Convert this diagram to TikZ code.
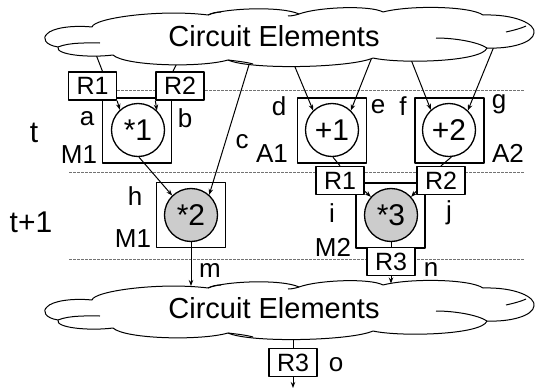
\documentclass[tikz,border=0pt]{standalone}
\usepackage{fontspec}
\setmainfont{Liberation Sans}
\usetikzlibrary{arrows.meta}
\newcommand{\mycloudshape}{%
  \draw[cloudline, fill=white] (47,34) .. controls (52,28) and (72,25) .. (92,27)
    .. controls (94,18) and (160,9) .. (208,15)
    .. controls (225,8) and (282,6) .. (299,14)
    .. controls (318,7) and (370,5) .. (383,12)
    .. controls (410,5) and (470,6) .. (483,15)
    .. controls (515,14) and (536,24) .. (534,33)
    .. controls (533,43) and (510,49) .. (487,48)
    .. controls (482,62) and (400,64) .. (373,58)
    .. controls (350,68) and (250,70) .. (228,60)
    .. controls (200,68) and (125,66) .. (113,55)
    .. controls (90,58) and (55,55) .. (58,47)
    .. controls (45,45) and (42,38) .. (47,34) -- cycle;
  \draw[cloudline] (58,47) .. controls (70,42) and (90,43) .. (100,43);
  \draw[cloudline] (228,60) .. controls (236,61) and (246,62) .. (253,64);
  \draw[cloudline] (487,48) .. controls (478,42) and (455,38) .. (436,38);
  \draw[cloudline] (506,32) .. controls (515,30) and (522,28) .. (526,26);
  \draw[cloudline] (299,14) .. controls (296,15) and (292,16) .. (288,16);
  \draw[cloudline] (208,15) .. controls (212,13) and (216,12) .. (221,12);
}
\begin{document}
\begin{tikzpicture}[x=1pt,y=-1pt, line join=round,
  box/.style={draw, line width=1.3pt, minimum width=69pt, minimum height=65pt, inner sep=0pt},
  reg/.style={draw, fill=white, line width=1.3pt, minimum width=48pt, minimum height=28pt, inner sep=0pt, font=\fontsize{25}{25}\selectfont},
  op/.style={circle, draw, fill=white, line width=1.3pt, minimum size=53pt, inner sep=0pt, font=\fontsize{30}{30}\selectfont},
  opg/.style={op, fill=black!20},
  lbl/.style={inner sep=0pt, font=\fontsize{26}{26}\selectfont},
  biglbl/.style={inner sep=0pt, font=\fontsize{30}{30}\selectfont},
  conn/.style={line width=1pt},
  arr/.style={conn, -{Stealth[length=6pt,width=4.5pt]}},
  sep/.style={black!55, line width=0.9pt, dash pattern=on 2.5pt off 1.5pt},
  cloudline/.style={line width=1pt},
  cloudtext/.style={inner sep=0pt, font=\fontsize{29}{29}\selectfont}
]
\useasboundingbox (0,0) rectangle (536,388);

% time separators
\draw[sep] (69,90) -- (524,90);
\draw[sep] (69,172) -- (524,172);
\draw[sep] (69,259) -- (524,259);

% coordinates inside the clouds (free ends)
\coordinate (s1) at (95,52);
\coordinate (s2) at (181,55);
\coordinate (sc) at (252,55);
\coordinate (sd) at (290,55);
\coordinate (se) at (374,52);
\coordinate (sf) at (408,52);
\coordinate (sg) at (495,44);
\coordinate (tm) at (191,286);
\coordinate (tn) at (391,283.5);
\coordinate (so) at (293,330);
\coordinate (out) at (293,388);

% boxes
\node[box] (mb1) at (137,130.5) {};
\node[box] (mb2) at (191,215) {};
\node[box] (ab1) at (332,130.5) {};
\node[box] (ab2) at (449.5,130.5) {};
\node[box] (mb3) at (390.5,215.5) {};

% operators
\node[op] (c1) at (138,130) {*1};
\node[opg] (c2) at (191,215) {*2};
\node[op] (p1) at (332,130) {+1};
\node[op] (p2) at (449,130) {+2};
\node[opg] (c3) at (391,215) {*3};

% registers
\node[reg] (r1a) at (92.5,86) {R1};
\node[reg] (r2a) at (180,86) {R2};
\node[reg] (r1b) at (340,180.5) {R1};
\node[reg] (r2b) at (441,180.5) {R2};
\node[reg] (r3) at (391,261.5) {R3};
\node[reg] (r3b) at (293,362.5) {R3};

% connectors leaving the clouds (drawn beneath the clouds)
\draw[conn] (s1) -- ([xshift=10pt]r1a.north);
\draw[conn] (s2) -- ([xshift=-7pt]r2a.north);
\draw[arr] (sc) -- (c2.48);
\draw[arr] (sd) -- (p1.134);
\draw[arr] (se) -- (p1.46);
\draw[arr] (sf) -- (p2.132);
\draw[arr] (sg) -- (p2.46);
\draw[conn] (so) -- (r3b.north);

% clouds
\mycloudshape
\begin{scope}[shift={(0,273)}]
\mycloudshape
\end{scope}
\node[cloudtext] (cloudtop) at (274,36) {Circuit Elements};
\node[cloudtext] (cloudbot) at (274,308) {Circuit Elements};

% internal connectors
\draw[arr] (r1a.south east) -- (c1.132);
\draw[arr] (r2a.south west) -- (c1.46);
\draw[arr] (c1.-88) -- (c2.134);
\draw[conn] (p1.-88) -- (r1b.north);
\draw[conn] (p2.-85) -- (r2b.north);
\draw[arr] ([yshift=4pt]r1b.south east) -- (c3.138);
\draw[arr] ([yshift=4pt]r2b.south west) -- (c3.42);
\draw[conn] (c3.south) -- (r3.north);
\draw[arr] (c2.south) -- (tm);
\draw[arr] (r3.south) -- (tn);
\draw[arr] (r3b.south) -- (out);

% labels
\node[biglbl] (tt) at (34,133) {t};
\node[biglbl] (tt1) at (31,222) {t+1};
\node[lbl] (la) at (87,119) {a};
\node[lbl] (lb) at (185,118) {b};
\node[lbl] (lm1) at (79,155) {M1};
\node[lbl] (lc) at (242,142) {c};
\node[lbl] (lh) at (135,196) {h};
\node[lbl] (lm1b) at (133,239) {M1};
\node[lbl] (lm) at (210,271) {m};
\node[lbl] (ld) at (279,106) {d};
\node[lbl] (le) at (378,107) {e};
\node[lbl] (lf) at (403,106) {f};
\node[lbl] (lg) at (499,104) {g};
\node[lbl] (la1) at (272,154) {A1};
\node[lbl] (la2) at (508,153) {A2};
\node[lbl] (li) at (332,213) {i};
\node[lbl] (lj) at (449,213) {j};
\node[lbl] (lm2) at (333,247) {M2};
\node[lbl] (ln) at (431,270) {n};
\node[lbl] (lo) at (336,365) {o};
\end{tikzpicture}
\end{document}
